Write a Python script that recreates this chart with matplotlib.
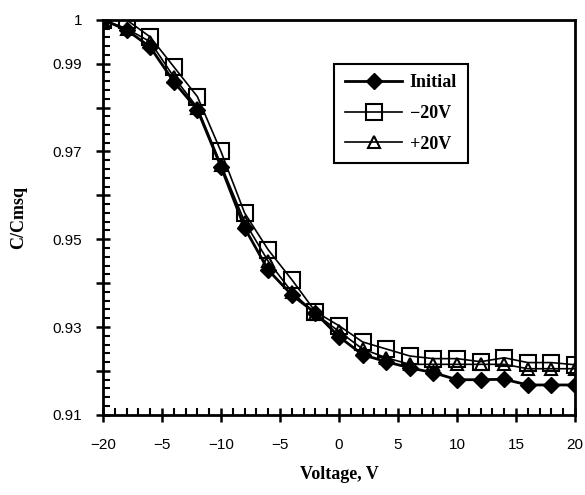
import matplotlib
matplotlib.use("Agg")
import matplotlib.pyplot as plt
from matplotlib.ticker import MultipleLocator

# データ
voltage = [-20, -18, -16, -14, -12, -10, -8, -6, -4, -2, 0,
           2, 4, 6, 8, 10, 12, 14, 16, 18, 20]
initial = [1.0, 0.9977, 0.9938, 0.9859, 0.9795, 0.9665, 0.9526, 0.9430, 0.9373, 0.9332, 0.9278,
           0.9237, 0.9221, 0.9207, 0.9196, 0.9180, 0.9180, 0.9181, 0.9168, 0.9168, 0.9168]
minus20 = [1.0, 1.0, 0.9961, 0.9893, 0.9825, 0.9700, 0.9560, 0.9476, 0.9408, 0.9335, 0.9303,
           0.9266, 0.9250, 0.9234, 0.9228, 0.9228, 0.9221, 0.9230, 0.9219, 0.9219, 0.9214]
plus20 = [1.0, 0.9980, 0.9950, 0.9870, 0.9800, 0.9670, 0.9540, 0.9450, 0.9380, 0.9330, 0.9290,
          0.9250, 0.9230, 0.9215, 0.9215, 0.9215, 0.9215, 0.9215, 0.9205, 0.9205, 0.9205]

xticks = [-20, -15, -10, -5, 0, 5, 10, 15, 20]
xticklabels = ["\u221220", "\u22125", "\u221210", "\u22125", "0", "5", "10", "15", "20"]
yticks = [0.91, 0.92, 0.93, 0.94, 0.95, 0.96, 0.97, 0.98, 0.99, 1.0]
yticklabels = ["0.91", "", "0.93", "", "0.95", "", "0.97", "", "0.99", "1"]

serif = ["Liberation Serif", "DejaVu Serif"]
sans = ["Liberation Sans", "DejaVu Sans"]

fig = plt.figure(figsize=(5.85, 4.95), dpi=100)
ax = fig.add_axes([0.176, 0.162, 0.807, 0.798])

ax.plot(voltage, initial, color="black", lw=2, marker="D", ms=8,
        mfc="black", mec="black", label="Initial", zorder=3)
ax.plot(voltage, minus20, color="black", lw=1.2, marker="s", ms=11,
        mfc="none", mec="black", mew=1.5, label="\u221220V")
ax.plot(voltage, plus20, color="black", lw=1.2, marker="^", ms=9,
        mfc="none", mec="black", mew=1.5, label="+20V")

ax.set_xlim(-20, 20)
ax.set_ylim(0.91, 1.0)
ax.set_xticks(xticks)
ax.set_xticklabels(xticklabels, fontfamily=sans, fontsize=11)
ax.set_yticks(yticks)
ax.set_yticklabels(yticklabels, fontfamily=sans, fontsize=11)
ax.xaxis.set_minor_locator(MultipleLocator(1))
ax.yaxis.set_minor_locator(MultipleLocator(0.002))
ax.tick_params(which="major", direction="inout", length=10, width=1.8, pad=10)
ax.tick_params(which="minor", direction="in", length=5, width=1.5)
ax.tick_params(axis="x", which="major", pad=12)
for s in ax.spines.values():
    s.set_linewidth(2)

ax.set_xlabel("Voltage, V", fontfamily=serif, fontweight="bold", fontsize=13, labelpad=10)
ax.set_ylabel("C/Cmsq", fontfamily=serif, fontweight="bold", fontsize=13, labelpad=18)

leg = ax.legend(loc="upper left", bbox_to_anchor=(0.47, 0.912), fancybox=False,
                edgecolor="black", framealpha=1, borderpad=0.6, handlelength=3.2,
                labelspacing=0.75, handletextpad=0.4,
                prop={"family": serif, "weight": "bold", "size": 13})
leg.get_frame().set_linewidth(1.5)

plt.savefig("out.png", dpi=100)
